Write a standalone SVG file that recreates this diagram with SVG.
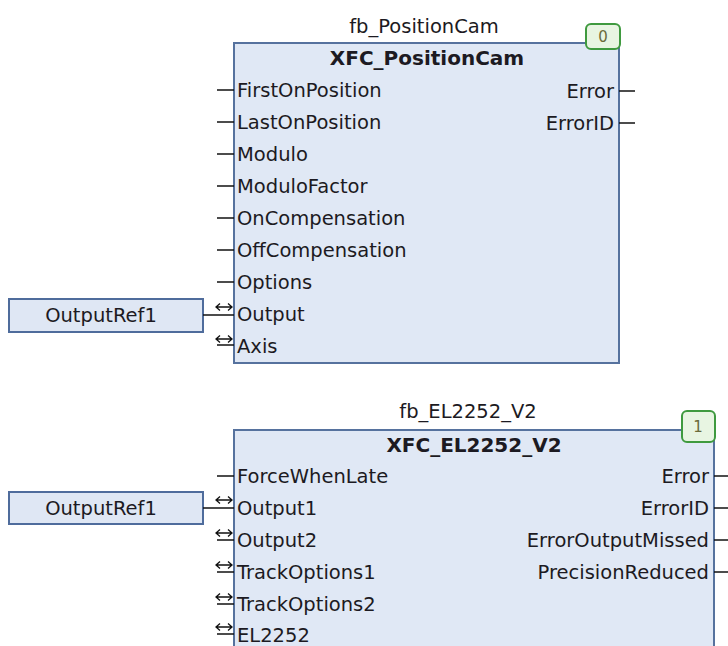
<svg xmlns="http://www.w3.org/2000/svg" width="728" height="646" viewBox="0 0 728 646">
<style>
.blk{fill:#e0e8f5;stroke:#56729e;stroke-width:2}
.ref{fill:#dfe7f4;stroke:#4f6c9c;stroke-width:2}
.badge{fill:#e8f5e2;stroke:#3f9a3f;stroke-width:2}
.t{font-family:"DejaVu Sans",sans-serif;font-size:19.5px;fill:#1c1a22}
.b{font-family:"DejaVu Sans",sans-serif;font-size:20px;font-weight:bold;fill:#1c1a22}
.bt{font-family:"DejaVu Sans",sans-serif;font-size:15px;fill:#6b6b3a}
.io{fill:none;stroke:#111;stroke-width:1.3}
.pin{stroke:#111;stroke-width:1.5}
.m{text-anchor:middle}
.e{text-anchor:end}
</style>
<defs>
  <path id="io" class="io" d="M216,0 H232 M220,-3.5 L216,0 L220,3.5 M228,-3.5 L232,0 L228,3.5"/>
</defs>
<rect width="728" height="646" fill="#ffffff"/>

<g id="fb_PositionCam">
  <text class="t m" x="424" y="33">fb_PositionCam</text>
  <rect class="blk" x="234" y="43" width="385" height="320"/>
  <rect class="badge" x="586" y="24" width="34" height="25" rx="5"/>
  <text class="bt m" x="603" y="42">0</text>
  <text class="b m" x="427" y="65">XFC_PositionCam</text>
  <line class="pin" x1="217" y1="90" x2="234" y2="90"/>
  <line class="pin" x1="217" y1="122" x2="234" y2="122"/>
  <line class="pin" x1="217" y1="154" x2="234" y2="154"/>
  <line class="pin" x1="217" y1="186" x2="234" y2="186"/>
  <line class="pin" x1="217" y1="218" x2="234" y2="218"/>
  <line class="pin" x1="217" y1="250" x2="234" y2="250"/>
  <line class="pin" x1="217" y1="282" x2="234" y2="282"/>
  <line class="pin" x1="217" y1="345" x2="234" y2="345"/>
  <use href="#io" y="307"/>
  <use href="#io" y="339"/>
  <text class="t" x="237" y="97">FirstOnPosition</text>
  <text class="t" x="237" y="129">LastOnPosition</text>
  <text class="t" x="237" y="161">Modulo</text>
  <text class="t" x="237" y="193">ModuloFactor</text>
  <text class="t" x="237" y="225">OnCompensation</text>
  <text class="t" x="237" y="257">OffCompensation</text>
  <text class="t" x="237" y="289">Options</text>
  <text class="t" x="237" y="321">Output</text>
  <text class="t" x="237" y="353">Axis</text>
  <line class="pin" x1="619" y1="91" x2="635" y2="91"/>
  <line class="pin" x1="619" y1="123" x2="635" y2="123"/>
  <text class="t e" x="614" y="98">Error</text>
  <text class="t e" x="614" y="130">ErrorID</text>
</g>

<g id="ref1">
  <rect class="ref" x="9" y="299" width="194" height="33"/>
  <text class="t m" x="101" y="322">OutputRef1</text>
</g>

<g id="fb_EL2252_V2">
  <text class="t m" x="468" y="418">fb_EL2252_V2</text>
  <rect class="blk" x="234" y="430" width="480" height="240"/>
  <rect class="badge" x="682" y="411" width="33" height="31" rx="5"/>
  <text class="bt m" x="698" y="432">1</text>
  <text class="b m" x="474" y="452">XFC_EL2252_V2</text>
  <line class="pin" x1="217" y1="476" x2="234" y2="476"/>
  <line class="pin" x1="217" y1="540" x2="234" y2="540"/>
  <line class="pin" x1="217" y1="572" x2="234" y2="572"/>
  <line class="pin" x1="217" y1="604" x2="234" y2="604"/>
  <line class="pin" x1="217" y1="634" x2="234" y2="634"/>
  <use href="#io" y="500"/>
  <use href="#io" y="533"/>
  <use href="#io" y="565"/>
  <use href="#io" y="597"/>
  <use href="#io" y="627"/>
  <text class="t" x="237" y="483">ForceWhenLate</text>
  <text class="t" x="237" y="515">Output1</text>
  <text class="t" x="237" y="547">Output2</text>
  <text class="t" x="237" y="579">TrackOptions1</text>
  <text class="t" x="237" y="611">TrackOptions2</text>
  <text class="t" x="237" y="642">EL2252</text>
  <line class="pin" x1="714" y1="476" x2="728" y2="476"/>
  <line class="pin" x1="714" y1="508" x2="728" y2="508"/>
  <line class="pin" x1="714" y1="540" x2="728" y2="540"/>
  <line class="pin" x1="714" y1="572" x2="728" y2="572"/>
  <text class="t e" x="709" y="483">Error</text>
  <text class="t e" x="709" y="515">ErrorID</text>
  <text class="t e" x="709" y="547">ErrorOutputMissed</text>
  <text class="t e" x="709" y="579">PrecisionReduced</text>
</g>

<g id="ref2">
  <rect class="ref" x="9" y="492" width="194" height="32"/>
  <text class="t m" x="101" y="515">OutputRef1</text>
</g>

<g id="connectors">
  <line class="pin" x1="203" y1="315" x2="234" y2="315"/>
  <line class="pin" x1="203" y1="508" x2="234" y2="508"/>
</g>
</svg>
